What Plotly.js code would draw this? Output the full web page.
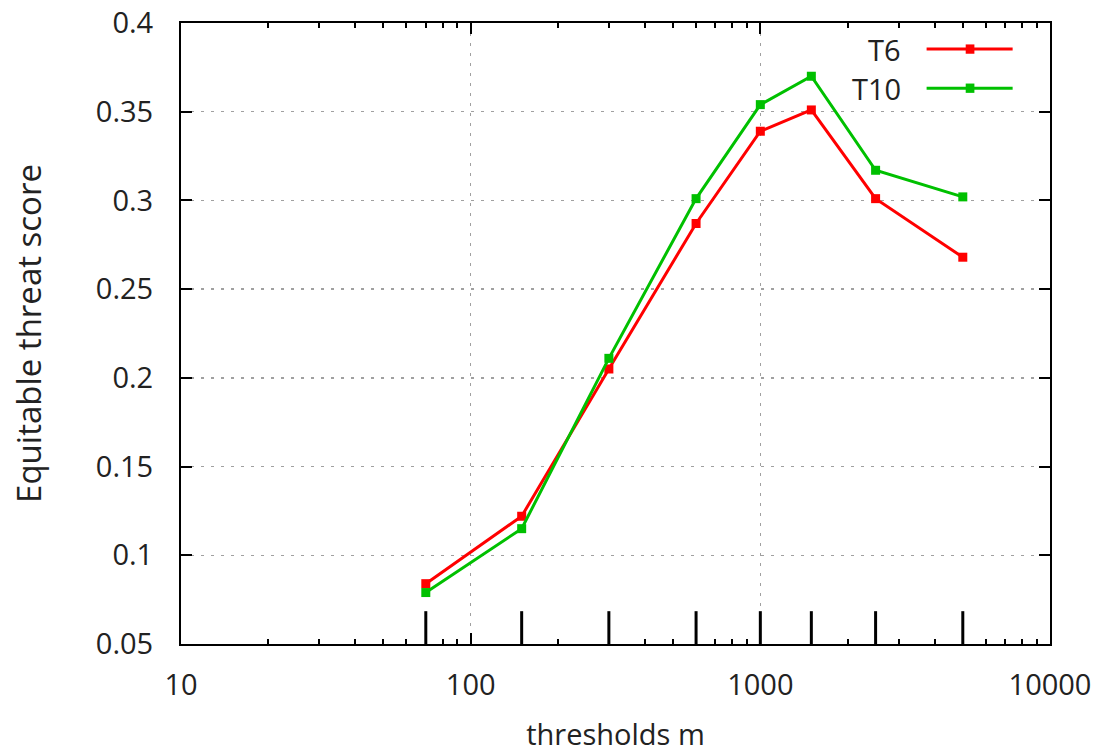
<!DOCTYPE html>
<html>
<head>
<meta charset="utf-8">
<script src="https://cdn.plot.ly/plotly-3.0.1.min.js"></script>
<style>html,body{margin:0;padding:0;background:#fff;}#chart{width:1102px;height:753px;}</style>
</head>
<body>
<div id="chart"></div>
<script>
// ---- data ----
const thresholds = [70, 150, 300, 600, 1000, 1500, 2500, 5000];
const etsT6  = [0.084, 0.122, 0.205, 0.287, 0.339, 0.351, 0.301, 0.268];
const etsT10 = [0.079, 0.115, 0.211, 0.301, 0.354, 0.370, 0.317, 0.302];
const seriesNames = ['T6', 'T10'];
const seriesColors = ['#ff0000', '#00c000'];
const xTickVals = [10, 100, 1000, 10000];
const xTickText = ['10', '100', '1000', '10000'];
const yMin = 0.05, yMax = 0.4;
const rugHeight = 0.0185;

// rug ticks at each threshold (bottom)
const rugX = [], rugY = [];
thresholds.forEach(t => { rugX.push(t, t, null); rugY.push(yMin, yMin + rugHeight, null); });

const FONT = 'Open Sans, Noto Sans, DejaVu Sans, sans-serif';
const traces = [
  {x: rugX, y: rugY, mode: 'lines', line: {color: '#000', width: 3}, hoverinfo: 'skip', showlegend: false},
  {x: thresholds, y: etsT6, name: seriesNames[0], mode: 'lines+markers',
   line: {color: seriesColors[0], width: 3}, marker: {symbol: 'square', size: 9, color: seriesColors[0]}},
  {x: thresholds, y: etsT10, name: seriesNames[1], mode: 'lines+markers',
   line: {color: seriesColors[1], width: 3}, marker: {symbol: 'square', size: 9, color: seriesColors[1]}}
];

// custom gnuplot-style legend (text left, sample right)
const legY = [0.958, 0.895];
const annotations = seriesNames.map((n, i) => ({
  xref: 'paper', yref: 'paper', x: 0.831, y: legY[i], xanchor: 'right', yanchor: 'middle',
  text: n, showarrow: false, font: {family: FONT, size: 29, color: '#222'}
}));
const shapes = [];
seriesColors.forEach((c, i) => {
  shapes.push({type: 'line', xref: 'paper', yref: 'paper', x0: 0.858, x1: 0.957, y0: legY[i], y1: legY[i],
               line: {color: c, width: 3}});
  shapes.push({type: 'rect', xref: 'paper', yref: 'paper', x0: 0.903, x1: 0.913, y0: legY[i] - 0.0075, y1: legY[i] + 0.0075,
               line: {width: 0}, fillcolor: c});
});

const layout = {
  width: 1102, height: 753,
  margin: {l: 181, r: 52, t: 23, b: 109},
  paper_bgcolor: '#fff', plot_bgcolor: '#fff',
  showlegend: false,
  font: {family: FONT, size: 28, color: '#222'},
  xaxis: {
    type: 'log', range: [1, 4], tickvals: xTickVals, ticktext: xTickText,
    ticks: 'inside', ticklen: 11, tickwidth: 2, tickcolor: '#000',
    minor: {ticks: 'inside', ticklen: 5, tickwidth: 2, tickcolor: '#000', dtick: 'D1', showgrid: false},
    showline: true, linecolor: '#000', linewidth: 2, mirror: 'ticks',
    showgrid: true, gridcolor: '#a0a0a0', gridwidth: 1.3, griddash: '3px,7px',
    zeroline: false, ticklabelstandoff: 14,
    tickfont: {family: FONT, size: 29, color: '#222'},
    title: {text: 'thresholds m', font: {family: FONT, size: 29, color: '#222'}, standoff: 28}
  },
  yaxis: {
    range: [yMin, yMax], dtick: 0.05, tick0: 0.05,
    ticks: 'inside', ticklen: 11, tickwidth: 2, tickcolor: '#000',
    showline: true, linecolor: '#000', linewidth: 2, mirror: 'ticks',
    showgrid: true, gridcolor: '#a0a0a0', gridwidth: 1.3, griddash: '3px,7px',
    zeroline: false, ticklabelstandoff: 20,
    tickfont: {family: FONT, size: 29, color: '#222'},
    title: {text: 'Equitable threat score', font: {family: FONT, size: 33, color: '#222'}, standoff: 44}
  },
  annotations: annotations,
  shapes: shapes
};

Plotly.newPlot('chart', traces, layout, {displayModeBar: false, staticPlot: true});
</script>
</body>
</html>
